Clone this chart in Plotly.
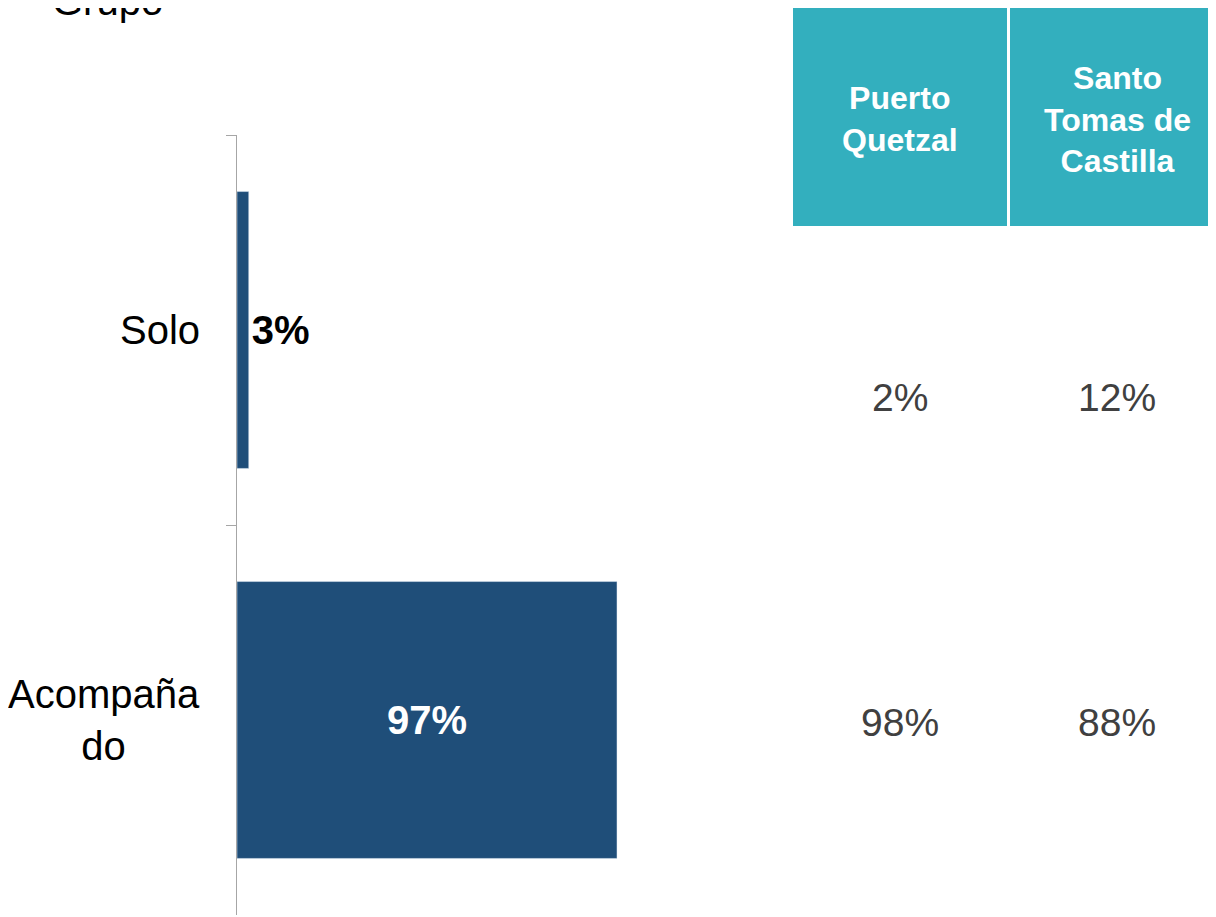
import plotly.graph_objects as go

# data
categories = ["Solo", "Acompañado"]
category_labels = ["Solo", "Acompaña<br>do"]
shares = [3, 97]
ports = ["Puerto<br>Quetzal", "Santo<br>Tomas de<br>Castilla"]
port_values = {
    "Solo": [2, 12],
    "Acompañado": [98, 88],
}
title_text = "Grupo"

FONT = "Arial, Liberation Sans, sans-serif"
BAR = "#1F4E79"
TEAL = "#33AFBE"

# page body has an 8px margin, so the figure sits 8px in from the window corner
OFF = 8
W, H = 1216 - OFF, 917 - OFF
L, T = 237 - OFF, 135 - OFF
R = 0
B = H - (915 - OFF)
PW, PH = W - L - R, H - T - B


def px_x(px):
    return (px - OFF - L) / PW


def px_y(py):
    return (H - B - (py - OFF)) / PH


fig = go.Figure()
fig.add_trace(go.Bar(
    x=shares,
    y=categories,
    orientation="h",
    width=0.71,
    marker_color=BAR,
    text=[f"{v}%" for v in shares],
    textposition=["outside", "inside"],
    insidetextanchor="middle",
    textfont=dict(family=FONT, size=40, color=["#000000", "#FFFFFF"], weight="bold"),
    cliponaxis=False,
))

annotations = []
# category labels
for cat, lab in zip(categories, category_labels):
    annotations.append(dict(
        x=px_x(202), xref="paper", xanchor="right",
        y=cat, yref="y", yanchor="middle",
        text=lab, showarrow=False, align="center",
        font=dict(family=FONT, size=40, color="#000000"),
    ))

# table header
col_edges = [(793, 1007), (1010, 1216)]
col_centers = [900, 1117]
shapes = []
for (x0, x1), cx, name in zip(col_edges, col_centers, ports):
    shapes.append(dict(
        type="rect", xref="paper", yref="paper",
        x0=px_x(x0), x1=px_x(x1), y0=px_y(226), y1=px_y(6),
        fillcolor=TEAL, line_width=0, layer="below",
    ))
    annotations.append(dict(
        x=px_x(cx), xref="paper", xanchor="center",
        y=px_y(119), yref="paper", yanchor="middle",
        text=f"<b>{name}</b>", showarrow=False, align="center",
        font=dict(family=FONT, size=32, color="#FFFFFF"),
    ))

# table values
row_y = {"Solo": 397, "Acompañado": 722}
for cat in categories:
    for cx, v in zip(col_centers, port_values[cat]):
        annotations.append(dict(
            x=px_x(cx), xref="paper", xanchor="center",
            y=px_y(row_y[cat]), yref="paper", yanchor="middle",
            text=f"{v}%", showarrow=False,
            font=dict(family=FONT, size=39, color="#404040"),
        ))

# title, mostly cut off at the top edge as in the original
annotations.append(dict(
    x=px_x(50), xref="paper", xanchor="left",
    y=px_y(25), yref="paper", yanchor="bottom",
    text=title_text, showarrow=False,
    font=dict(family=FONT, size=40, color="#000000"),
))

fig.update_layout(
    width=W, height=H,
    margin=dict(l=L, r=R, t=T, b=B),
    paper_bgcolor="white",
    plot_bgcolor="white",
    showlegend=False,
    xaxis=dict(visible=False, range=[0, PW * 97 / 380]),
    yaxis=dict(
        autorange="reversed",
        showticklabels=False,
        showline=True, linecolor="#A6A6A6", linewidth=1,
        ticks="outside", ticklen=10, tickcolor="#A6A6A6",
        tickson="boundaries", showgrid=False, zeroline=False,
    ),
    shapes=shapes,
    annotations=annotations,
)

fig.write_html("out.html")
